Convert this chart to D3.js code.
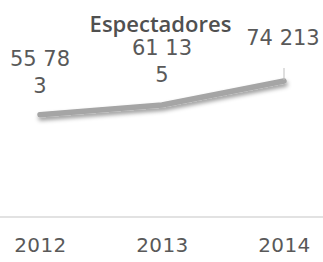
<!DOCTYPE html>
<html><head><meta charset="utf-8">
<script src="https://cdn.jsdelivr.net/npm/d3@7"></script>
<style>html,body{margin:0;padding:0;background:#fff;}svg{display:block;}</style>
</head><body>
<script>
const years = ["2012", "2013", "2014"];
const spectators = [55783, 61135, 74213];
const labelWrap = [5, 5, 0];
const title = "Espectadores";

const W = 323, H = 262;
const svg = d3.select("body").append("svg").attr("width", W).attr("height", H);
const defs = svg.append("defs");
const f = defs.append("filter").attr("id", "sh").attr("x", "-20%").attr("y", "-50%").attr("width", "140%").attr("height", "200%");
f.append("feDropShadow").attr("dx", 1).attr("dy", 3).attr("stdDeviation", 2).attr("flood-color", "#000").attr("flood-opacity", 0.4);

const x = d3.scalePoint().domain(years).range([40, 284]);
const y = d3.scaleLinear().domain([0, 80000]).range([217, 70.4]);

// axis
const ax = svg.append("g").attr("transform", `translate(0,217)`)
  .call(d3.axisBottom(x).tickSize(0).tickPadding(21));
ax.select(".domain").remove();
svg.append("line").attr("x1", 0).attr("x2", W).attr("y1", 217).attr("y2", 217)
  .attr("stroke", "#d9d9d9").attr("stroke-width", 1.5);
ax.selectAll("text").attr("font-family", "DejaVu Sans").attr("font-size", 20)
  .attr("letter-spacing", 0.4).attr("fill", "#595959").attr("dy", "0.72em");

// line
const data = years.map((yr, i) => ({yr, v: spectators[i], w: labelWrap[i]}));
svg.append("path").datum(data)
  .attr("d", d3.line().x(d => x(d.yr)).y(d => y(d.v)))
  .attr("fill", "none").attr("stroke", "#a5a5a5").attr("stroke-width", 5.5)
  .attr("stroke-linecap", "round").attr("stroke-linejoin", "round")
  .attr("filter", "url(#sh)");

// leader line for last label
const last = data[data.length - 1];
svg.append("line").attr("x1", x(last.yr)).attr("x2", x(last.yr))
  .attr("y1", y(last.v) - 13).attr("y2", y(last.v) - 1)
  .attr("stroke", "#bfbfbf").attr("stroke-width", 1);

// labels
const fmt = v => d3.format(",")(v).replace(/,/g, " ");
const lblY = [66, 55, 45];
data.forEach((d, i) => {
  const s = fmt(d.v);
  const lines = d.w ? [s.slice(0, d.w), s.slice(d.w).trim()] : [s];
  const t = svg.append("text").attr("text-anchor", "middle")
    .attr("font-family", "DejaVu Sans").attr("font-size", 21).attr("fill", "#595959");
  lines.forEach((ln, j) => {
    t.append("tspan").attr("x", x(d.yr) + (i === 2 ? -1 : 0)).attr("y", lblY[i] + j * 26.5).text(ln);
  });
});

// title
svg.append("text").attr("x", 160.5).attr("y", 32).attr("text-anchor", "middle")
  .attr("font-family", "Open Sans").attr("font-weight", 600)
  .attr("font-size", 22).attr("fill", "#505050").text(title);
</script>
</body></html>
